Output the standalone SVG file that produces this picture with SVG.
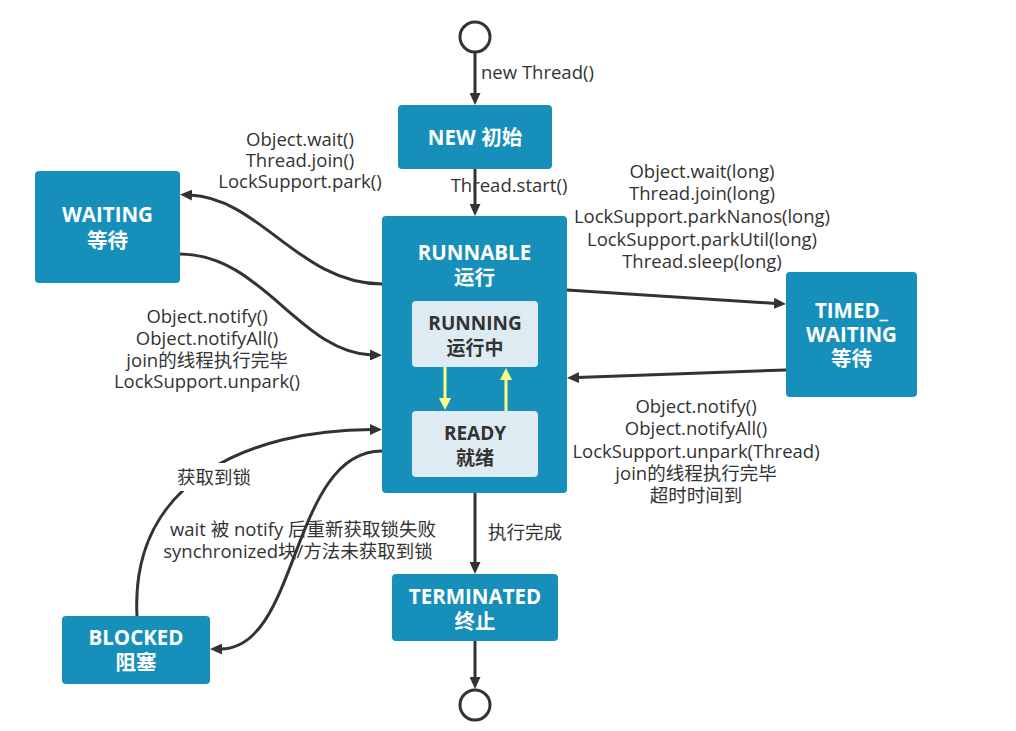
<svg xmlns="http://www.w3.org/2000/svg" width="1016" height="731" viewBox="0 0 1016 731">
<style>
.node{fill:#168fba;}
.inner{fill:#deebf3;}
.nt{font-family:"Open Sans","Noto Sans CJK SC",sans-serif;font-weight:bold;font-size:20.5px;fill:#ffffff;text-anchor:middle;}
.it{font-family:"Open Sans","Noto Sans CJK SC",sans-serif;font-weight:bold;font-size:19px;fill:#333333;text-anchor:middle;}
.lb{font-family:"Open Sans","Noto Sans CJK SC",sans-serif;font-size:18.5px;fill:#333333;text-anchor:middle;}
.edge{fill:none;stroke:#333333;stroke-width:3;}
.yedge{fill:none;stroke:#ffff88;stroke-width:3;}
.term{fill:#ffffff;stroke:#333333;stroke-width:3;}
</style>
<defs>
<marker id="ah" markerUnits="userSpaceOnUse" markerWidth="12" markerHeight="11" refX="2" refY="5.5" orient="auto" viewBox="0 0 12 11">
<path d="M0,0 L12,5.5 L0,11 z" fill="#333333"/>
</marker>
<marker id="yah" markerUnits="userSpaceOnUse" markerWidth="12" markerHeight="12" refX="2" refY="6" orient="auto" viewBox="0 0 12 12">
<path d="M0,0 L12,6 L0,12 z" fill="#ffff88"/>
</marker>
</defs>

<g id="start"><circle class="term" cx="475" cy="37" r="15"/></g>
<g id="end"><circle class="term" cx="475" cy="705" r="15"/></g>

<g id="new">
<rect class="node" x="398" y="105" width="154" height="64" rx="4"/>
<text class="nt" x="475" y="145">NEW 初始</text>
</g>

<g id="waiting">
<rect class="node" x="35" y="171" width="145" height="112" rx="4"/>
<text class="nt" x="107.5" y="222">WAITING</text>
<text class="nt" x="107.5" y="248">等待</text>
</g>

<g id="runnable">
<rect class="node" x="382" y="216" width="185" height="277" rx="4"/>
<text class="nt" x="474.5" y="260">RUNNABLE</text>
<text class="nt" x="474.5" y="285">运行</text>
</g>

<g id="running">
<rect class="inner" x="412" y="301" width="126" height="66" rx="4"/>
<text class="it" x="475" y="330">RUNNING</text>
<text class="it" x="475" y="355">运行中</text>
</g>

<g id="ready">
<rect class="inner" x="412" y="411" width="126" height="66" rx="4"/>
<text class="it" x="475" y="440">READY</text>
<text class="it" x="475" y="465">就绪</text>
</g>

<g id="timed_waiting">
<rect class="node" x="786" y="272" width="131" height="125" rx="4"/>
<text class="nt" x="851.5" y="318">TIMED_</text>
<text class="nt" x="851.5" y="342">WAITING</text>
<text class="nt" x="851.5" y="366">等待</text>
</g>

<g id="blocked">
<rect class="node" x="62" y="616" width="148" height="68" rx="4"/>
<text class="nt" x="136" y="645">BLOCKED</text>
<text class="nt" x="136" y="670">阻塞</text>
</g>

<g id="terminated">
<rect class="node" x="392" y="574" width="166" height="67" rx="4"/>
<text class="nt" x="475" y="604">TERMINATED</text>
<text class="nt" x="475" y="629">终止</text>
</g>

<g id="connectors">
<path class="edge" d="M475,52 L475,95" marker-end="url(#ah)"/>
<path class="edge" d="M475,169 L475,206" marker-end="url(#ah)"/>
<path class="edge" d="M475,493 L475,564" marker-end="url(#ah)"/>
<path class="edge" d="M475,641 L475,679" marker-end="url(#ah)"/>
<path class="edge" d="M382,284 C300,284 260,198 190,195" marker-end="url(#ah)"/>
<path class="edge" d="M180,254 C262,254 300,353 372,355" marker-end="url(#ah)"/>
<path class="edge" d="M567,290 L776,303.4" marker-end="url(#ah)"/>
<path class="edge" d="M786,370 L577,377.6" marker-end="url(#ah)"/>
<path class="edge" d="M137,616 C130,480 250,430 372,429.5" marker-end="url(#ah)"/>
<path class="edge" d="M382,451 C290,451 300,650 220,649" marker-end="url(#ah)"/>
<path class="yedge" d="M445,367 L445,400" marker-end="url(#yah)"/>
<path class="yedge" d="M506,411 L506,378" marker-end="url(#yah)"/>

<text class="lb" x="481" y="79" style="text-anchor:start">new Thread()</text>
<text class="lb" x="509" y="192">Thread.start()</text>

<text class="lb" x="300" y="146">Object.wait()</text>
<text class="lb" x="300" y="167">Thread.join()</text>
<text class="lb" x="300" y="188">LockSupport.park()</text>

<text class="lb" x="207" y="323">Object.notify()</text>
<text class="lb" x="207" y="345">Object.notifyAll()</text>
<text class="lb" x="207" y="367">join的线程执行完毕</text>
<text class="lb" x="207" y="388">LockSupport.unpark()</text>

<text class="lb" x="702" y="178">Object.wait(long)</text>
<text class="lb" x="702" y="200">Thread.join(long)</text>
<text class="lb" x="702" y="223">LockSupport.parkNanos(long)</text>
<text class="lb" x="702" y="246">LockSupport.parkUtil(long)</text>
<text class="lb" x="702" y="268">Thread.sleep(long)</text>

<text class="lb" x="696" y="413">Object.notify()</text>
<text class="lb" x="696" y="435">Object.notifyAll()</text>
<text class="lb" x="696" y="458">LockSupport.unpark(Thread)</text>
<text class="lb" x="696" y="480">join的线程执行完毕</text>
<text class="lb" x="696" y="502">超时时间到</text>

<rect x="172" y="463" width="84" height="28" fill="#ffffff"/>
<text class="lb" x="214" y="484">获取到锁</text>

<text class="lb" x="303" y="536">wait 被 notify 后重新获取锁失败</text>
<text class="lb" x="298" y="558">synchronized块/方法未获取到锁</text>

<text class="lb" x="488" y="539" style="text-anchor:start">执行完成</text>
</g>
</svg>
